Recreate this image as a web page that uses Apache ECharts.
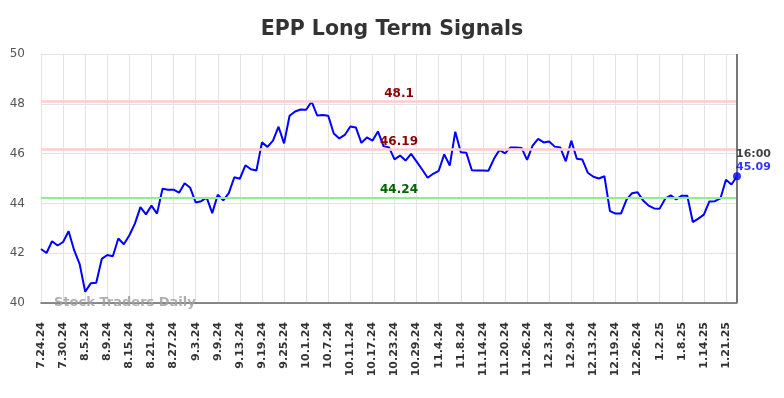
<!DOCTYPE html>
<html><head><meta charset="utf-8">
<script src="https://cdn.jsdelivr.net/npm/echarts@6/dist/echarts.min.js"></script>
<style>html,body{margin:0;padding:0;background:#fff}#c{width:784px;height:398px}</style>
</head><body><div id="c"></div>
<script>
var categories = [
"7.24.24","7.25.24","7.26.24","7.29.24","7.30.24","7.31.24",
"8.1.24","8.2.24","8.5.24","8.6.24","8.7.24","8.8.24","8.9.24","8.12.24","8.13.24","8.14.24","8.15.24","8.16.24","8.19.24","8.20.24","8.21.24","8.22.24","8.23.24","8.26.24","8.27.24","8.28.24","8.29.24","8.30.24",
"9.3.24","9.4.24","9.5.24","9.6.24","9.9.24","9.10.24","9.11.24","9.12.24","9.13.24","9.16.24","9.17.24","9.18.24","9.19.24","9.20.24","9.23.24","9.24.24","9.25.24","9.26.24","9.27.24","9.30.24",
"10.1.24","10.2.24","10.3.24","10.4.24","10.7.24","10.8.24","10.9.24","10.10.24","10.11.24","10.14.24","10.15.24","10.16.24","10.17.24","10.18.24","10.21.24","10.22.24","10.23.24","10.24.24","10.25.24","10.28.24","10.29.24","10.30.24","10.31.24",
"11.1.24","11.4.24","11.5.24","11.6.24","11.7.24","11.8.24","11.11.24","11.12.24","11.13.24","11.14.24","11.15.24","11.18.24","11.19.24","11.20.24","11.21.24","11.22.24","11.25.24","11.26.24","11.27.24","11.29.24",
"12.2.24","12.3.24","12.4.24","12.5.24","12.6.24","12.9.24","12.10.24","12.11.24","12.12.24","12.13.24","12.16.24","12.17.24","12.18.24","12.19.24","12.20.24","12.23.24","12.24.24","12.26.24","12.27.24","12.30.24","12.31.24",
"1.2.25","1.3.25","1.6.25","1.7.25","1.8.25","1.9.25","1.10.25","1.13.25","1.14.25","1.15.25","1.16.25","1.17.25","1.21.25","1.22.25","1.23.25"
];
var prices = [
42.17,42.01,42.48,42.31,42.45,42.88,42.12,41.56,40.45,40.79,40.81,41.77,41.93,41.88,42.59,42.36,42.72,43.19,43.85,43.56,
43.91,43.59,44.59,44.55,44.55,44.43,44.81,44.63,44.04,44.09,44.23,43.61,44.35,44.12,44.41,45.05,44.99,45.53,45.37,45.32,
46.45,46.27,46.52,47.08,46.41,47.52,47.69,47.77,47.76,48.09,47.53,47.55,47.52,46.81,46.61,46.75,47.09,47.05,46.43,46.65,
46.52,46.89,46.30,46.25,45.77,45.92,45.72,45.99,45.68,45.36,45.03,45.19,45.31,45.97,45.52,46.88,46.05,46.03,45.33,45.32,
45.32,45.31,45.79,46.15,46.01,46.25,46.25,46.23,45.75,46.32,46.59,46.45,46.49,46.28,46.25,45.69,46.52,45.79,45.76,45.23,
45.07,45.00,45.09,43.69,43.59,43.59,44.15,44.41,44.45,44.12,43.91,43.80,43.79,44.19,44.32,44.16,44.31,44.31,43.25,43.39,
43.55,44.08,44.09,44.20,44.95,44.76,45.09
];
var resistanceLevels = [48.1, 46.19];
var supportLevels = [44.24];
var yTicks = [40, 42, 44, 46, 48, 50];
var titleText = "EPP Long Term Signals";
var lastTimeLabel = "16:00";
var watermark = "Stock Traders Daily";

var n = prices.length;
var lastCat = categories[n - 1];
var lastVal = prices[n - 1];

var lineMarks = [];
resistanceLevels.forEach(function (v) {
  lineMarks.push({
    yAxis: v,
    lineStyle: { color: '#ffcccc', width: 2.5, type: 'solid' },
    label: { show: true, position: 'insideMiddleTop', distance: 1, offset: [10, 0], formatter: String(v),
      color: '#8b0000', fontWeight: 'bold', fontSize: 12, fontFamily: 'DejaVu Sans' }
  });
});
supportLevels.forEach(function (v) {
  lineMarks.push({
    yAxis: v,
    lineStyle: { color: '#90ee90', width: 2, type: 'solid' },
    label: { show: true, position: 'insideMiddleTop', distance: 2, offset: [10, 0], formatter: String(v),
      color: '#006400', fontWeight: 'bold', fontSize: 12, fontFamily: 'DejaVu Sans' }
  });
});
lineMarks.push({
  xAxis: lastCat,
  lineStyle: { color: '#777', width: 2, type: 'solid' },
  label: { show: false }
});

var chart = echarts.init(document.getElementById('c'));
chart.setOption({
  animation: false,
  backgroundColor: '#fff',
  title: {
    text: titleText, left: 'center', top: 14,
    textStyle: { fontSize: 20.5, fontWeight: 'bold', color: '#333', fontFamily: 'DejaVu Sans' }
  },
  grid: { left: 41, right: 47, top: 54, bottom: 95 },
  xAxis: {
    type: 'category',
    data: categories,
    boundaryGap: false,
    axisLine: { show: true, lineStyle: { color: '#666', width: 1.5 } },
    axisTick: { show: false },
    axisLabel: {
      interval: 3, rotate: 90, margin: 19, color: '#333', fontSize: 11,
      fontWeight: 'bold', fontFamily: 'DejaVu Sans'
    },
    splitLine: { show: true, interval: 3, lineStyle: { color: '#e3e3e3', width: 1 } }
  },
  yAxis: {
    type: 'value', min: yTicks[0], max: yTicks[yTicks.length - 1], interval: 2,
    axisLine: { show: false }, axisTick: { show: false },
    axisLabel: { color: '#555', fontSize: 12, margin: 16, fontFamily: 'DejaVu Sans' },
    splitLine: { show: true, lineStyle: { color: '#e3e3e3', width: 1 } }
  },
  graphic: [{
    type: 'text', left: 54, top: 296, z: 100,
    style: { text: watermark, font: 'bold 13px "DejaVu Sans"', fill: 'rgba(160,160,160,0.85)' }
  }],
  series: [{
    type: 'line',
    data: prices,
    showSymbol: false,
    lineStyle: { color: '#0000ff', width: 2 },
    itemStyle: { color: '#0000ff' },
    markLine: { symbol: 'none', silent: true, animation: false, data: lineMarks }
  }, {
    type: 'scatter',
    data: [[lastCat, lastVal]],
    symbol: 'circle', symbolSize: 8,
    itemStyle: { color: '#0000ff' },
    z: 5,
    label: {
      show: true, position: [3, -25],
      formatter: function () { return '{t|' + lastTimeLabel + '}\n{v|' + lastVal.toFixed(2) + '}'; },
      rich: {
        t: { color: '#111', fontWeight: 'bold', fontSize: 11, lineHeight: 13, fontFamily: 'DejaVu Sans' },
        v: { color: '#0000ff', fontWeight: 'bold', fontSize: 11, lineHeight: 13, fontFamily: 'DejaVu Sans' }
      }
    }
  }]
});
</script>
</body></html>
